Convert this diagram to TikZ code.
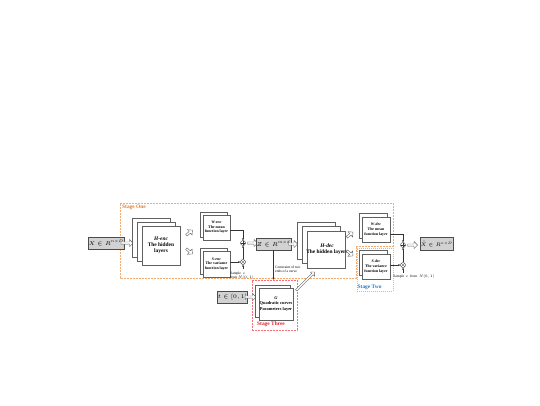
\RequirePackage{fix-cm}
\documentclass[tikz,border=0pt]{standalone}
\usepackage{fontspec}
\setmainfont{Liberation Serif}
\usetikzlibrary{shapes.arrows,arrows.meta}
\definecolor{stone}{RGB}{245,170,110}
\definecolor{stonetext}{RGB}{230,120,40}
\definecolor{skyc}{RGB}{150,200,235}
\definecolor{skytext}{RGB}{40,120,200}
\definecolor{redc}{RGB}{245,110,120}
\definecolor{redtext}{RGB}{225,30,40}
\begin{document}
\begin{tikzpicture}[x=1pt,y=-1pt,
  sheet/.style={draw=gray!75!black, fill=white, line width=0.5pt, inner sep=0pt, align=center},
  graybox/.style={draw=gray!60!black, fill=gray!35, line width=0.5pt, inner sep=0.6pt, font=\fontsize{5.6}{6.4}\selectfont},
  harrow/.style={single arrow, draw=gray!75!black, fill=white, line width=0.4pt, minimum height=#1, minimum width=7pt, single arrow head extend=1.4pt, inner sep=0.4pt},
  sumnode/.style={circle, draw=black!80, fill=white, line width=0.4pt, minimum size=5pt, inner sep=0pt,
    path picture={\draw[line width=0.3pt] (path picture bounding box.north) -- (path picture bounding box.south) (path picture bounding box.west) -- (path picture bounding box.east);}},
  prodnode/.style={circle, draw=black!80, fill=white, line width=0.4pt, minimum size=5pt, inner sep=0pt,
    path picture={\draw[line width=0.3pt] (path picture bounding box.north west) -- (path picture bounding box.south east) (path picture bounding box.south west) -- (path picture bounding box.north east);}},
  conn/.style={draw=black!80, line width=0.45pt, -{Stealth[length=2.2pt,width=2pt]}},
  bigtext/.style={font=\fontsize{5.4}{6.2}\selectfont\bfseries},
  smalltext/.style={font=\fontsize{3.9}{4.6}\selectfont\bfseries},
  note/.style={font=\fontsize{3.6}{4.2}\selectfont, inner sep=0pt, align=left},
  stagelabel/.style={font=\fontsize{5.4}{6}\selectfont\bfseries, inner sep=0pt, anchor=west}
]
\useasboundingbox (0,0) rectangle (540,405);

% Stage outlines
\draw[stone, dashed, dash pattern=on 2pt off 1pt, line width=0.5pt] (120,203) -- (393,203) -- (393,246) -- (356,246) -- (356,278) -- (120,278) -- cycle;
\node[draw=skyc, dash pattern=on 1pt off 1pt, line width=0.5pt, minimum width=36pt, minimum height=43pt, inner sep=0pt] (s2) at (375,269.5) {};
\node[draw=redc, dash pattern=on 2pt off 1pt, line width=0.5pt, minimum width=45pt, minimum height=50pt, inner sep=0pt] (s3) at (274.5,305) {};
\node[stagelabel, text=stonetext] (l1) at (122,207.5) {Stage One};
\node[stagelabel, text=skytext] (l2) at (357.5,287) {Stage Two};
\node[stagelabel, text=redtext] (l3) at (257,324) {Stage Three};

% input
\node[graybox, minimum width=28pt, minimum height=12pt] (xin) at (106,243) {$X\in R^{n\times D}$};
\node[harrow=12pt] (a1) at (126.5,243) {};

% H-enc stack
\node[sheet, minimum width=38pt, minimum height=39pt] (henc3) at (151,237.5) {};
\node[sheet, minimum width=38pt, minimum height=39pt] (henc2) at (156,241.5) {};
\node[sheet, bigtext, minimum width=38pt, minimum height=39pt] (henc) at (161,245.5) {\textit{H-enc}\\The hidden\\layers};

\node[harrow=8pt, rotate=40] (a2) at (189,233) {};
\node[harrow=8pt, rotate=-40] (a3) at (189,251) {};

% W-enc
\node[sheet, minimum width=27pt, minimum height=25pt] (wenc2) at (213.5,224.5) {};
\node[sheet, smalltext, minimum width=27pt, minimum height=25pt] (wenc) at (216.5,227.5) {\textit{W-enc}\\The mean\\function layer};
% S-enc
\node[sheet, minimum width=27pt, minimum height=26pt] (senc2) at (213.5,261) {};
\node[sheet, smalltext, minimum width=27pt, minimum height=26pt] (senc) at (216.5,264) {\textit{S-enc}\\The variance\\function layer};

\node[sumnode] (sum1) at (243,243) {};
\node[prodnode] (prod1) at (243,262) {};
\coordinate (eps1) at (243,269);
\draw[conn] (wenc.east |- 0,230) -| (sum1);
\draw[conn] (prod1) -- (sum1);
\draw[conn] (senc.east |- prod1) -- (prod1);
\draw[conn] (eps1) -- (prod1);
\node[note, align=left] (samp1) at (242,275.5) {Sample\ \ $\varepsilon$\\from $N(0,1)$};

\node[harrow=10pt] (a4) at (252,243) {};
\node[graybox, minimum width=27pt, minimum height=12pt] (zbox) at (273.5,244) {$Z\in R^{m\times d}$};
\node[harrow=9pt] (a5) at (292.5,244) {};

% constraint line
\draw[conn] (zbox.south) -- (zbox.south |- s3.north);
\node[note, anchor=west] (cons) at (275,269.5) {Constraint of two\\ends of a curve};

% H-dec stack
\node[sheet, minimum width=38pt, minimum height=37pt] (hdec3) at (316,240.5) {};
\node[sheet, minimum width=38pt, minimum height=37pt] (hdec2) at (321,245) {};
\node[sheet, minimum width=38pt, minimum height=37pt] (hdec) at (326,249.5) {};
\node[bigtext, align=center, inner sep=0pt] (hdect) at (327,249.5) {\textit{H-dec}\\The hidden layers};

\node[harrow=8pt, rotate=40] (a6) at (349.5,235) {};
\node[harrow=8pt, rotate=-40] (a7) at (349.5,253) {};

% W-dec
\node[sheet, minimum width=28pt, minimum height=25pt] (wdec2) at (373,225.5) {};
\node[sheet, smalltext, minimum width=28pt, minimum height=25pt] (wdec) at (376,229.5) {\textit{W-dec}\\The mean\\function layer};
% S-dec
\node[sheet, minimum width=28pt, minimum height=25pt] (sdec2) at (373,262.5) {};
\node[sheet, smalltext, minimum width=28pt, minimum height=25pt] (sdec) at (376,266.5) {\textit{S-dec}\\The variance\\function layer};

\node[sumnode] (sum2) at (403,245) {};
\node[prodnode] (prod2) at (403,265) {};
\coordinate (eps2) at (403,273);
\draw[conn] (wdec.east |- 0,234) -| (sum2);
\draw[conn] (prod2) -- (sum2);
\draw[conn] (sdec.east |- prod2) -- (prod2);
\draw[conn] (eps2) -- (prod2);
\node[note] (samp2) at (414,276.5) {Sample\ \ $\varepsilon$\ \ from\ \ $N(0,1)$};

\node[harrow=10pt] (a8) at (412,245) {};
\node[graybox, font=\fontsize{5.1}{6}\selectfont, minimum width=32pt, minimum height=13pt] (xout) at (436.5,244) {$\hat{X}\in R^{n\times D}$};

% Stage three
\node[graybox, minimum width=19pt, minimum height=12pt] (tbox) at (232.5,297) {$t\in\left[0,1\right]$};
\node[harrow=11pt] (a9) at (250,297) {};
\node[sheet, minimum width=35pt, minimum height=32pt] (quad2) at (272.5,301) {};
\node[sheet, font=\fontsize{4.4}{5.2}\selectfont\bfseries, minimum width=34pt, minimum height=32pt] (quad) at (276,304) {\textit{G}\\Quadratic curves\\Parameters layer};
\node[harrow=26pt, minimum width=6pt, single arrow head extend=1.2pt, rotate=45] (a10) at (305,281.5) {};
\end{tikzpicture}
\end{document}
